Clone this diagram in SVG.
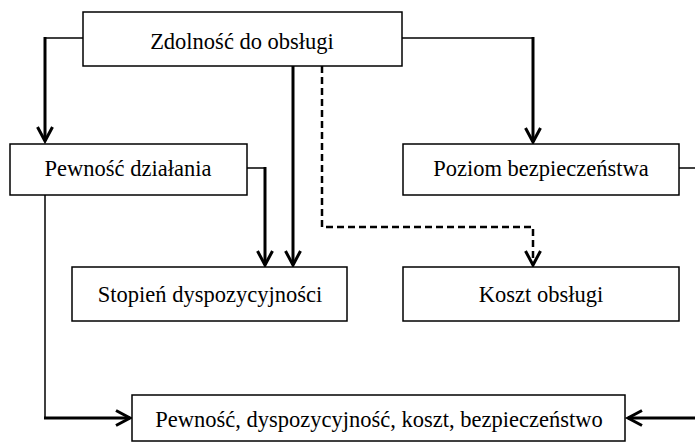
<svg xmlns="http://www.w3.org/2000/svg" width="695" height="443" viewBox="0 0 695 443">
<style>
.box{fill:#fff;stroke:#000;stroke-width:1.5}
.t{font-family:"Liberation Serif",serif;font-size:22.5px;fill:#000;text-anchor:middle}
.thin{fill:none;stroke:#000;stroke-width:1.5}
.thick{fill:none;stroke:#000;stroke-width:3}
.dash{fill:none;stroke:#000;stroke-width:2.5;stroke-dasharray:7,4}
.ah{fill:none;stroke:#000;stroke-width:3}
</style>
<g id="connectors">
<polyline class="thin" points="83,38 45,38"/>
<line class="thick" x1="45" y1="37" x2="45" y2="141"/>
<polyline class="ah" points="37.5,127 45,141 52.5,127"/>
<polyline class="thin" points="402,38 533,38"/>
<line class="thick" x1="533" y1="37" x2="533" y2="142"/>
<polyline class="ah" points="525.5,128 533,142 540.5,128"/>
<line class="thick" x1="293" y1="66" x2="293" y2="265"/>
<polyline class="ah" points="285.5,251 293,265 300.5,251"/>
<polyline class="dash" points="322,66 322,227 533,227 533,265"/>
<polyline class="ah" points="525.5,251 533,265 540.5,251"/>
<polyline class="thin" points="247,168 265,168"/>
<line class="thick" x1="265" y1="167" x2="265" y2="265"/>
<polyline class="ah" points="257.5,251 265,265 272.5,251"/>
<polyline class="thin" points="45,195 45,418"/>
<line class="thick" x1="44" y1="418" x2="130" y2="418"/>
<polyline class="ah" points="116,410.5 130,418 116,425.5"/>
<polyline class="thin" points="679,168 695,168"/>
<line class="thick" x1="628" y1="418" x2="695" y2="418"/>
<polyline class="ah" points="642,410.5 628,418 642,425.5"/>
</g>
<g id="n1"><rect class="box" x="83" y="12" width="319" height="54"/><text class="t" x="242" y="49">Zdolność do obsługi</text></g>
<g id="n2"><rect class="box" x="10" y="144" width="237" height="51"/><text class="t" x="128" y="176">Pewność działania</text></g>
<g id="n3"><rect class="box" x="403" y="144" width="276" height="51"/><text class="t" x="541" y="176">Poziom bezpieczeństwa</text></g>
<g id="n4"><rect class="box" x="72" y="267" width="275" height="54"/><text class="t" x="210" y="302">Stopień dyspozycyjności</text></g>
<g id="n5"><rect class="box" x="403" y="267" width="276" height="54"/><text class="t" x="541" y="302">Koszt obsługi</text></g>
<g id="n6"><rect class="box" x="132" y="395" width="493" height="46"/><text class="t" x="379" y="427">Pewność, dyspozycyjność, koszt, bezpieczeństwo</text></g>
</svg>
